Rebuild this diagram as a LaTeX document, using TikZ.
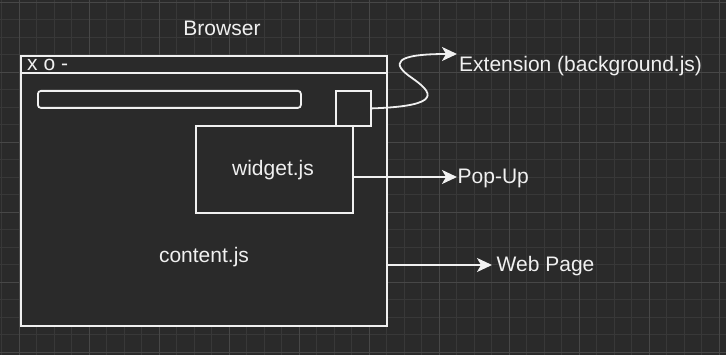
\documentclass[tikz,border=0pt]{standalone}
\usepackage{fontspec}
\setmainfont{Liberation Sans}
\usepackage{tikz}
\usetikzlibrary{arrows.meta,positioning}

\definecolor{canvas}{HTML}{2A2A2A}
\definecolor{gridminor}{HTML}{383838}
\definecolor{gridmajor}{HTML}{474747}
\definecolor{ink}{HTML}{F0F0F0}

\begin{document}
\begin{tikzpicture}[
  x=1pt, y=-1pt,
  every node/.style={text=ink, font=\fontsize{21}{25}\selectfont, inner sep=0pt},
  box/.style={draw=ink, fill=canvas, line width=1.8pt, anchor=north west},
  label/.style={anchor=base west},
  arr/.style={draw=ink, line width=1.8pt, -{Stealth[length=15pt, width=14pt, inset=4pt]}},
  minor/.style={gridminor, line width=0.8pt},
  major/.style={gridmajor, line width=0.8pt}
]
% canvas and grid
\fill[canvas] (0,0) rectangle (726,355);
\useasboundingbox (0,0) rectangle (726,355);
\foreach \i in {-1,...,40} \draw[minor] (19.3+17.5*\i,0) -- ++(0,355);
\foreach \i in {0,...,20} \draw[minor] (0,2.3+17.5*\i) -- ++(726,0);
\foreach \i in {0,...,10} \draw[major] (19.3+70*\i,0) -- ++(0,355);
\foreach \i in {0,...,5} \draw[major] (0,2.3+70*\i) -- ++(726,0);

% browser window
\node[label, anchor=base] (title) at (222,36) {Browser};
\node[box, minimum width=366pt, minimum height=270pt] (win) at (20,55) {};
\node[box, minimum width=366pt, minimum height=17pt] (bar) at (20,55) {};
\node[label] (ctrl) at (27,70.5) {x o -};
\node[box, rounded corners=3pt, minimum width=263pt, minimum height=17pt] (url) at (37,90) {};
\node[box, minimum width=157pt, minimum height=87pt] (widget) at (195,125) {};
\node[box, minimum width=35pt, minimum height=35pt] (ext) at (335,90) {};
\node[anchor=base] (wjs) at (273,175.5) {widget.js};
\node[anchor=base] (cjs) at (204,263) {content.js};

% targets
\coordinate (exttip) at (457,54);
\coordinate (poptip) at (457,177);
\coordinate (webtip) at (492,265);
\node[label] (extlbl) at (459,72) {Extension (background.js)};
\node[label] (poplbl) at (457.5,184) {Pop-Up};
\node[label] (weblbl) at (496.5,272) {Web Page};

\draw[arr] (ext.east) .. controls (445,106) and (432,92) .. (412,78)
  .. controls (390,63) and (395,54) .. (exttip);
\draw[arr] (widget.east |- poptip) -- (poptip);
\draw[arr] (win.east |- webtip) -- (webtip);
\end{tikzpicture}
\end{document}
